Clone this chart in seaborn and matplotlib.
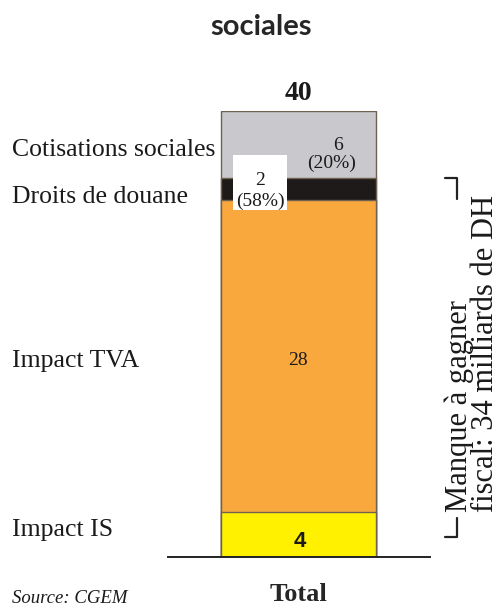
import matplotlib
matplotlib.use("Agg")
import matplotlib.pyplot as plt
import matplotlib.transforms as mtransforms
import seaborn as sns
import numpy as np
import pandas as pd

# ---- data ----
title_text = "sociales"
bar_category = ["Total"]
segments = ["Impact IS", "Impact TVA", "Droits de douane", "Cotisations sociales"]
values = [4, 28, 2, 6]
segment_colors = ["#fff100", "#f9a83e", "#1e1a1a", "#c9c9cd"]
share_labels = ["", "", "(58%)", "(20%)"]
bracket_text = "Manque à gagner\nfiscal: 34 milliards de DH"
bracket_value = 34
source_text = "Source: CGEM"

W, H = 499, 608
sns.set_theme(style="white")
plt.rcParams["font.family"] = ["Liberation Serif", "DejaVu Serif"]

fig = plt.figure(figsize=(W / 100, H / 100), dpi=100)
# axes: x 168..430 px, y data 0 at 557 px, 40 at 111 px
ax = fig.add_axes([168 / W, (H - 557) / H, (430 - 168) / W, (557 - 111) / H])

cum = np.cumsum(values)
total = int(cum[-1])
for i in reversed(range(len(values))):
    df = pd.DataFrame({"cat": bar_category, "val": [cum[i]]})
    sns.barplot(data=df, x="cat", y="val", color=segment_colors[i], saturation=1,
                width=0.8, edgecolor="#6e6150", linewidth=1.0, ax=ax, zorder=2)

upp = 0.8 / 155.0
ax.set_xlim(-130.5 * upp, 131.5 * upp)
ax.set_ylim(0, total)
for s in ["top", "left", "right"]:
    ax.spines[s].set_visible(False)
ax.spines["bottom"].set_color("#222222")
ax.spines["bottom"].set_linewidth(1.4)
ax.set_yticks([])
ax.set_xlabel("")
ax.set_ylabel("")
ax.tick_params(axis="x", length=0, pad=19)
for lab in ax.get_xticklabels():
    lab.set_fontsize(19)
    lab.set_fontweight("bold")
    lab.set_fontfamily("Liberation Serif")
ax.set_facecolor("none")

def px(x, y):
    return x / W, 1 - y / H

# title
fig.text(*px(261, 35), title_text, ha="center", va="baseline",
         fontsize=21, fontweight="bold", family=["Lato", "DejaVu Sans"])

# left segment labels
label_baselines = [536, 367, 203, 156]
for name, yb in zip(segments, label_baselines):
    fig.text(*px(12, yb), name, ha="left", va="baseline", fontsize=18.5, color="#1a1a1a")

# total on top
fig.text(*px(298, 100), str(total), ha="center", va="baseline", fontsize=20,
         fontweight="bold", color="#1a1a1a")

# inner value labels
fig.text(*px(338, 150), str(values[3]), ha="center", va="baseline", fontsize=14, color="#1a1a1a")
fig.text(*px(332, 168), share_labels[3], ha="center", va="baseline", fontsize=14, color="#1a1a1a")
fig.patches.append(plt.Rectangle((233 / W, 1 - 210 / H), 54 / W, 55 / H,
                                 transform=fig.transFigure, facecolor="white",
                                 edgecolor="none", zorder=1))
fig.text(*px(260, 185), str(values[2]), ha="center", va="baseline", fontsize=14, color="#1a1a1a")
fig.text(*px(260, 206), share_labels[2], ha="center", va="baseline", fontsize=14, color="#1a1a1a")
fig.text(*px(298, 365), str(values[1]), ha="center", va="baseline", fontsize=14, color="#1a1a1a")
fig.text(*px(300, 547), str(values[0]), ha="center", va="baseline", fontsize=16,
         fontweight="bold", family=["Liberation Sans"], color="#1a1a1a")

# brackets
tr = mtransforms.blended_transform_factory(fig.transFigure, ax.transData)
fig.lines.append(plt.Line2D([445 / W, 457 / W, 457 / W], [bracket_value, bracket_value, bracket_value - 1.9],
                            transform=tr, color="#222222", lw=1.6))
fig.lines.append(plt.Line2D([445 / W, 457 / W, 457 / W], [1.8, 1.8, 3.5],
                            transform=tr, color="#222222", lw=1.6))

fig.text(*px(472, 512), bracket_text, rotation=90, rotation_mode="anchor",
         ha="left", va="center", multialignment="left", fontsize=22,
         linespacing=0.88, color="#1a1a1a")

fig.text(*px(12, 603), source_text, ha="left", va="baseline", fontsize=13.5,
         style="italic", color="#1a1a1a")

fig.savefig("out.png", dpi=100)
